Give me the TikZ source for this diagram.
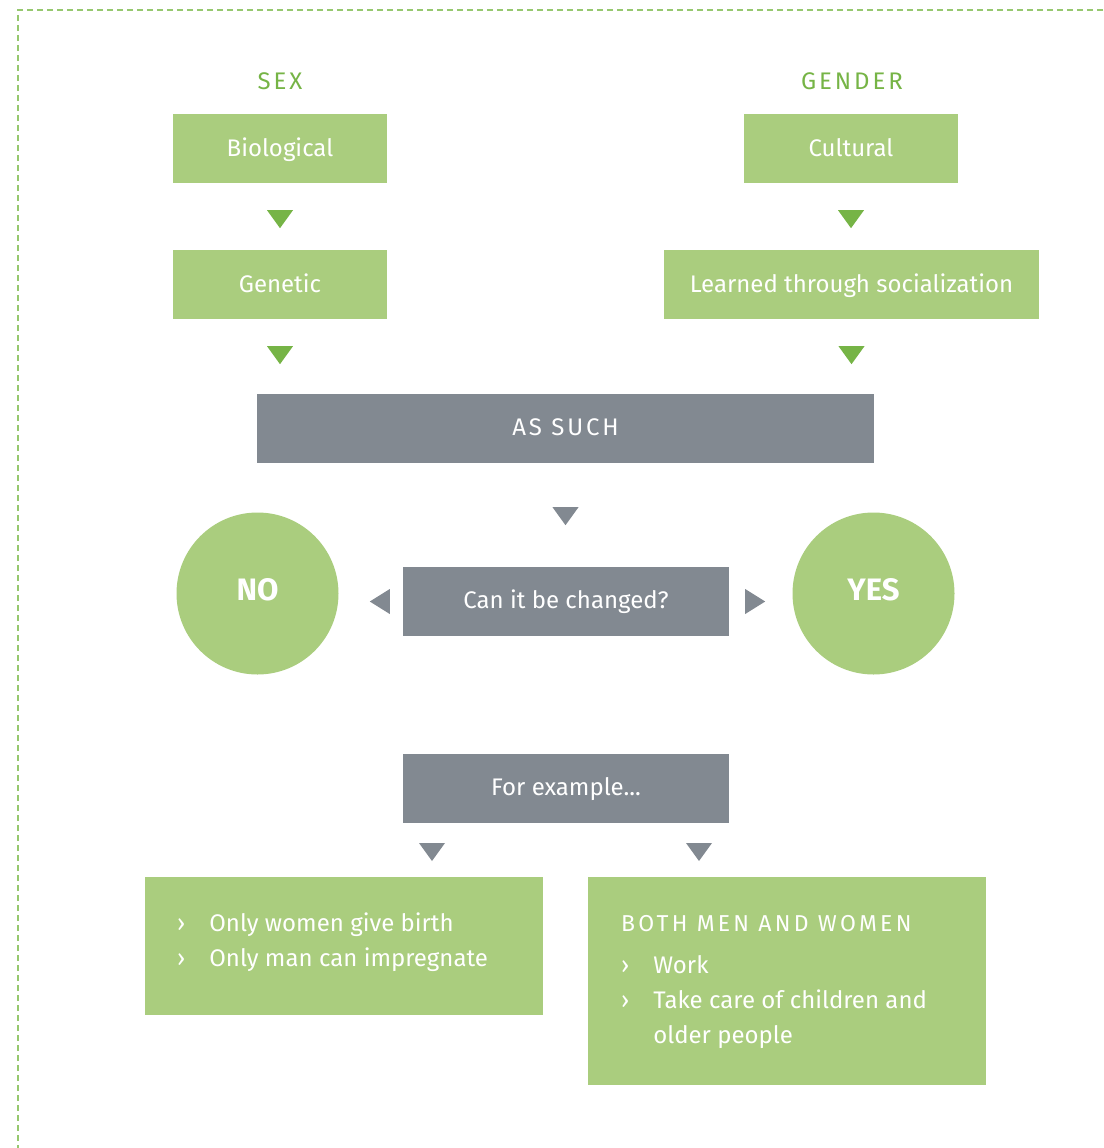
\documentclass[tikz,border=0pt]{standalone}
\usepackage{fontspec}
\setmainfont{Fira Sans}
\usepackage{tikz}
\usetikzlibrary{positioning,calc}
\definecolor{leaf}{RGB}{170,205,126}
\definecolor{leafdark}{RGB}{118,180,70}
\definecolor{slate}{RGB}{130,137,145}
\definecolor{frame}{RGB}{150,200,110}
\newcommand{\spaced}[1]{{\addfontfeature{LetterSpace=12}#1}}
\newcommand{\widespaced}[1]{{\addfontfeature{LetterSpace=14}#1}}
\newcommand{\tridown}[2]{\fill[#1] (#2) +(-13,-9) -- +(13,-9) -- +(0,9) -- cycle;}
\newcommand{\trileft}[2]{\fill[#1] (#2) +(-10,0) -- +(10,-12.5) -- +(10,12.5) -- cycle;}
\newcommand{\triright}[2]{\fill[#1] (#2) +(10,0) -- +(-10,-12.5) -- +(-10,12.5) -- cycle;}
\tikzstyle{heading} = [text=leafdark, inner sep=0pt, font=\fontsize{24}{28}\selectfont]
\tikzstyle{greenbox} = [fill=leaf, text=white, minimum height=69pt, inner sep=0pt, text height=18pt, text depth=2pt, font=\fontsize{24}{28}\selectfont]
\tikzstyle{greybox} = [fill=slate, text=white, minimum height=69pt, inner sep=0pt, text height=18pt, text depth=4pt, font=\fontsize{24}{28}\selectfont]
\tikzstyle{answer} = [circle, fill=leaf, text=white, minimum size=162pt, inner sep=0pt, text depth=8pt, font=\bfseries\fontsize{31}{36}\selectfont]
\tikzstyle{listbox} = [fill=leaf, minimum width=398pt, inner sep=0pt, anchor=north west]
\tikzstyle{listtext} = [text=white, inner sep=0pt, anchor=north west, font=\fontsize{24}{35}\selectfont]

\begin{document}
\begin{tikzpicture}[x=1pt,y=-1pt]
\useasboundingbox (0,0) rectangle (1103,1148);
\draw[frame, line width=1.5pt, dash pattern=on 6pt off 4pt] (1103,10) -- (18,10) -- (18,1148);

\node[heading] (sex) at (280,81) {\spaced{SEX}};
\node[heading] (gender) at (852,81) {\spaced{GENDER}};
\node[greenbox, minimum width=214pt] (bio) at (280,148.5) {Biological};
\node[greenbox, minimum width=214pt] (cult) at (851,148.5) {Cultural};
\node[greenbox, minimum width=214pt] (gen) at (280,284.5) {Genetic};
\node[greenbox, minimum width=375pt] (learn) at (851.5,284.5) {Learned through socialization};
\node[greybox, minimum width=617pt] (assuch) at (565.5,428.5) {\spaced{AS SUCH}};
\node[greybox, minimum width=326pt] (change) at (566,601.5) {Can it be changed?};
\node[answer] (no) at (257.5,593.5) {NO};
\node[answer] (yes) at (873.5,593.5) {YES};
\node[greybox, minimum width=326pt] (forex) at (566,788.5) {For example...};

\coordinate[below=36pt of bio.south] (t1);
\coordinate[below=36pt of cult.south] (t2);
\coordinate[below=36pt of gen.south] (t3);
\coordinate[below=36pt of learn.south] (t4);
\coordinate[below=53pt of assuch.south] (t5);
\coordinate[left=23pt of change.west] (t6);
\coordinate[right=26pt of change.east] (t7);
\coordinate (t8) at (432,852);
\coordinate (t9) at (699,852);
\tridown{leafdark}{t1}
\tridown{leafdark}{t2}
\tridown{leafdark}{t3}
\tridown{leafdark}{t4}
\tridown{slate}{t5}
\trileft{slate}{t6}
\triright{slate}{t7}
\tridown{slate}{t8}
\tridown{slate}{t9}

\node[listbox, minimum height=138pt] (ex1) at (145,877) {};
\node[listbox, minimum height=208pt] (ex2) at (588,877) {};
\node[listtext] (ex1txt) at (177,906.5) {\begin{tabular}{@{}l@{\hspace{24pt}}l@{}}
› & Only women give birth\\
› & Only man can impregnate
\end{tabular}};
\node[listtext] (ex2txt) at (621,906.5) {\begin{tabular}{@{}l@{\hspace{24pt}}l@{}}
\multicolumn{2}{@{}l@{}}{\fontsize{23}{35}\selectfont\widespaced{BOTH MEN AND WOMEN}}\\[7pt]
› & Work\\
› & Take care of children and\\
  & older people
\end{tabular}};
\end{tikzpicture}
\end{document}
